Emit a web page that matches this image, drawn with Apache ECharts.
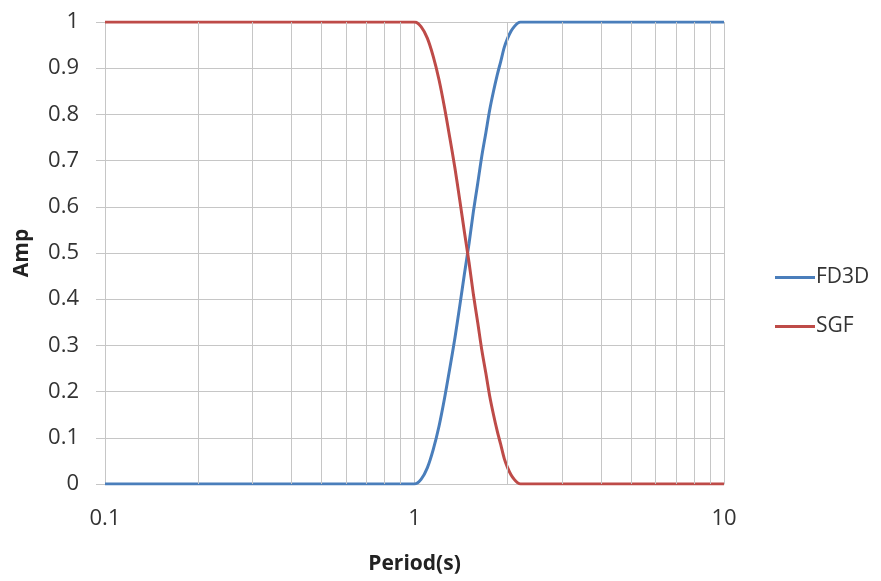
<!DOCTYPE html>
<html>
<head>
<meta charset="utf-8">
<script src="https://cdn.jsdelivr.net/npm/echarts@6/dist/echarts.min.js"></script>
<style>html,body{margin:0;padding:0;background:#fff}#c{width:881px;height:581px}</style>
</head>
<body>
<div id="c"></div>
<script>
var periods = [0.1, 1.0, 1.05, 1.1, 1.15, 1.2, 1.25, 1.3, 1.35, 1.4, 1.45, 1.5, 1.55, 1.6, 1.65, 1.7, 1.75, 1.8, 1.85, 1.9, 1.95, 2.0, 2.05, 2.1, 2.15, 2.2, 10];
var sgf = [1, 1, 0.99, 0.965, 0.925, 0.875, 0.815, 0.75, 0.685, 0.615, 0.545, 0.48, 0.41, 0.35, 0.29, 0.24, 0.19, 0.15, 0.115, 0.085, 0.055, 0.035, 0.02, 0.01, 0.003, 0, 0];
var fd3d = [0, 0, 0.01, 0.035, 0.075, 0.125, 0.185, 0.25, 0.315, 0.385, 0.455, 0.52, 0.59, 0.65, 0.71, 0.76, 0.81, 0.85, 0.885, 0.915, 0.945, 0.965, 0.98, 0.99, 0.997, 1, 1];
var minorGrid = [0.2, 0.3, 0.4, 0.5, 0.6, 0.7, 0.8, 0.9, 2, 3, 4, 5, 6, 7, 8, 9];
var seriesNames = ['FD3D', 'SGF'];

var FONT = '"Open Sans", sans-serif';
var gridColor = '#c6c6c6';
function pairs(ys) { return periods.map(function (p, i) { return [p, ys[i]]; }); }

var chart = echarts.init(document.getElementById('c'), null, { renderer: 'canvas' });
chart.setOption({
  animation: false,
  backgroundColor: '#ffffff',
  grid: { left: 105, right: 157, top: 22, bottom: 97 },
  legend: {
    orient: 'vertical', left: 770, top: 262,
    icon: 'rect', itemWidth: 40, itemHeight: 3, itemGap: 28,
    data: seriesNames,
    textStyle: { fontFamily: FONT, fontSize: 21, color: '#333', padding: [0, 0, 0, -4] }
  },
  xAxis: {
    type: 'log', logBase: 10, min: 0.1, max: 10,
    name: 'Period(s)', nameLocation: 'middle', nameGap: 70,
    nameTextStyle: { fontFamily: FONT, fontSize: 21, fontWeight: 'bold', color: '#222' },
    axisLine: { show: true, lineStyle: { color: gridColor, width: 1 } },
    axisTick: { show: false },
    axisLabel: { fontFamily: FONT, fontSize: 22, color: '#333', margin: 24,
      formatter: function (v) { return String(+v.toPrecision(3)); } },
    splitLine: { show: true, lineStyle: { color: gridColor, width: 1 } }
  },
  yAxis: {
    type: 'value', min: 0, max: 1, interval: 0.1,
    name: 'Amp', nameLocation: 'middle', nameGap: 72, nameRotate: 90,
    nameTextStyle: { fontFamily: FONT, fontSize: 21, fontWeight: 'bold', color: '#222' },
    axisLine: { show: false },
    axisTick: { show: true, length: 9, lineStyle: { color: gridColor } },
    axisLabel: { fontFamily: FONT, fontSize: 22, color: '#333', margin: 26,
      formatter: function (v) { return String(+v.toFixed(1)); } },
    splitLine: { show: true, lineStyle: { color: gridColor, width: 1 } }
  },
  series: [
    {
      name: 'gridMinor', type: 'line', data: [], silent: true,
      markLine: {
        silent: true, symbol: ['none', 'none'], animation: false,
        label: { show: false },
        lineStyle: { color: gridColor, width: 1, type: 'solid' },
        emphasis: { disabled: true },
        data: minorGrid.map(function (v) { return { xAxis: v }; })
      }
    },
    {
      name: seriesNames[0], type: 'line', data: pairs(fd3d), showSymbol: false, symbol: 'none',
      smooth: 0.3, lineStyle: { color: '#4a7ebb', width: 3 }, itemStyle: { color: '#4a7ebb' }
    },
    {
      name: seriesNames[1], type: 'line', data: pairs(sgf), showSymbol: false, symbol: 'none',
      smooth: 0.3, lineStyle: { color: '#be4b48', width: 3 }, itemStyle: { color: '#be4b48' }
    }
  ]
});
</script>
</body>
</html>
